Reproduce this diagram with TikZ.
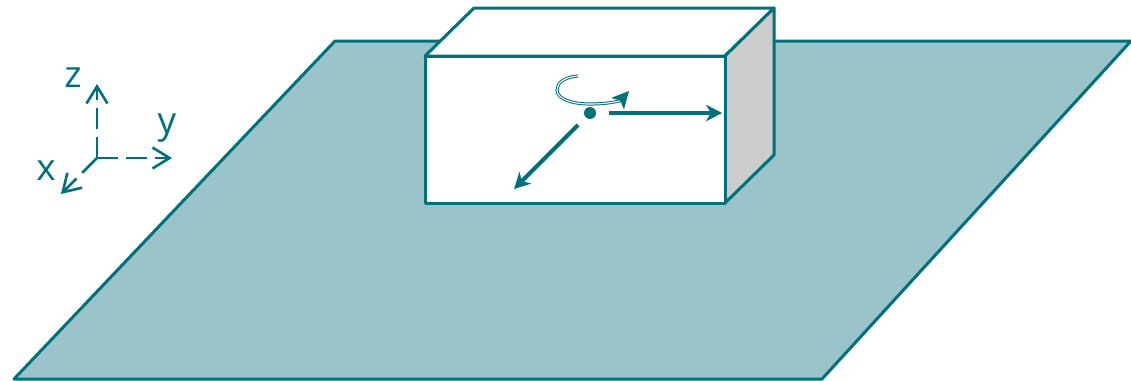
\documentclass[tikz,border=0pt]{standalone}
\usepackage{fontspec}
\setmainfont{Open Sans}
\usetikzlibrary{arrows.meta}
\definecolor{tealline}{RGB}{0,113,123}
\definecolor{tealplane}{RGB}{154,196,202}
\definecolor{sidegray}{RGB}{204,204,204}
\begin{document}
\begin{tikzpicture}[x=0.02cm, y=-0.02cm,
    edge/.style={draw=tealline, line width=0.06cm, line join=round},
    axis/.style={tealline, line width=0.052cm, dash pattern=on 0.42cm off 0.16cm,
        -{Straight Barb[length=0.34cm, width=0.42cm, line width=0.052cm]}},
    motion/.style={tealline, line width=0.08cm, -{Stealth[length=0.32cm, width=0.33cm, inset=0.1cm]}},
    axislabel/.style={text=tealline, inner sep=0pt, font=\fontsize{21}{21}\selectfont}]
    \useasboundingbox (0,0) rectangle (1131,380);

    % Plano
    \coordinate (planeA) at (335,41);
    \coordinate (planeB) at (1131,41);
    \coordinate (planeC) at (822,379);
    \coordinate (planeD) at (14,379);
    \fill[tealplane] (planeA) -- (planeB) -- (planeC) -- (planeD) -- cycle;
    \draw[edge] (planeA) -- (planeB) -- (planeC) -- (planeD) -- cycle;

    % Caja
    \coordinate (frontA) at (425,56);
    \coordinate (frontB) at (725,56);
    \coordinate (frontC) at (725,203);
    \coordinate (frontD) at (425,203);
    \coordinate (backA) at (474,8);
    \coordinate (backB) at (774,8);
    \coordinate (backC) at (774,155);
    \draw[edge, fill=white] (frontA) -- (backA) -- (backB) -- (frontB) -- cycle;
    \draw[edge, fill=sidegray] (frontB) -- (backB) -- (backC) -- (frontC) -- cycle;
    \draw[edge, fill=white] (frontA) -- (frontB) -- (frontC) -- (frontD) -- cycle;

    % Ejes
    \coordinate (origin) at (97,158);
    \coordinate (xend) at (61,194);
    \coordinate (yend) at (172,158);
    \coordinate (zend) at (97,84);
    \draw[axis] (origin) -- (xend);
    \draw[axis] (origin) -- (yend);
    \draw[axis] (origin) -- (zend);
    \node[axislabel] (xlabel) at (46,171) {x};
    \node[axislabel] (ylabel) at (167,128) {y};
    \node[axislabel] (zlabel) at (73,78) {z};

    % Movimientos de la caja
    \node[circle, fill=tealline, inner sep=0pt, minimum size=0.24cm] (center) at (590,113) {};
    \coordinate (ystart) at (609,113);
    \coordinate (yarrow) at (722,113);
    \coordinate (xstart) at (578,125);
    \coordinate (xarrow) at (514,189);
    \draw[motion] (ystart) -- (yarrow);
    \draw[motion] (xstart) -- (xarrow);

    % Giro
    \coordinate (turnstart) at (578,76);
    \coordinate (turnleft) at (557,90);
    \coordinate (turnlow) at (590,104);
    \coordinate (turnend) at (629,91);
    \draw[tealline, line width=0.02cm, double=white, double distance=0.022cm,
        -{Stealth[length=0.34cm, width=0.34cm, inset=0.08cm]}]
        (turnstart) .. controls (564,77) and (557,83) .. (turnleft)
        .. controls (557,99) and (572,104) .. (turnlow)
        .. controls (608,104) and (620,101) .. (turnend);
\end{tikzpicture}
\end{document}
